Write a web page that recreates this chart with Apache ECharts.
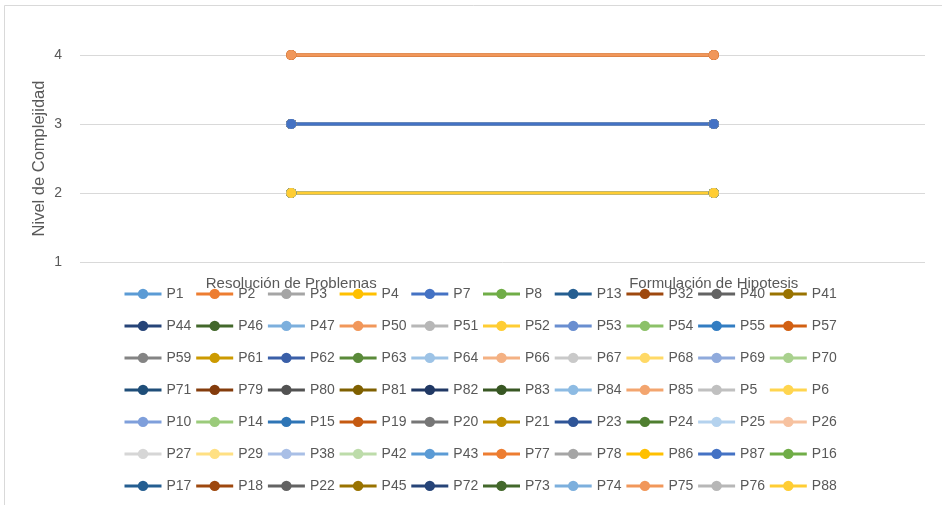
<!DOCTYPE html>
<html>
<head>
<meta charset="utf-8">
<script src="https://cdn.jsdelivr.net/npm/echarts@6/dist/echarts.min.js"></script>
<style>
html,body{margin:0;padding:0;background:#fff;}
#chart{width:942px;height:505px;}
</style>
</head>
<body>
<div id="chart"></div>
<script>
const categories = ['Resolución de Problemas', 'Formulación de Hipotesis'];
const yTicks = [1, 2, 3, 4];
const seriesNames = [
  'P1','P2','P3','P4','P7','P8','P13','P32','P40','P41',
  'P44','P46','P47','P50','P51','P52','P53','P54','P55','P57',
  'P59','P61','P62','P63','P64','P66','P67','P68','P69','P70',
  'P71','P79','P80','P81','P82','P83','P84','P85','P5','P6',
  'P10','P14','P15','P19','P20','P21','P23','P24','P25','P26',
  'P27','P29','P38','P42','P43','P77','P78','P86','P87','P16',
  'P17','P18','P22','P45','P72','P73','P74','P75','P76','P88'
];
const resolucion = [
  3,4,2,2,3,2,3,3,3,3,
  3,2,2,4,3,2,3,2,3,4,
  3,2,3,2,2,4,3,2,3,2,
  3,3,3,3,3,2,2,4,2,2,
  3,2,3,3,3,3,3,2,2,4,
  2,2,3,2,3,4,3,2,3,2,
  2,4,2,2,2,2,2,4,2,2
];
const formulacion = [
  3,4,2,2,3,2,3,3,3,3,
  3,2,2,4,3,2,3,2,3,4,
  3,2,3,2,2,4,3,2,3,2,
  3,3,3,3,3,2,2,4,2,2,
  3,2,3,3,3,3,3,2,2,4,
  2,2,3,2,3,4,3,2,3,2,
  2,4,2,2,2,2,2,4,2,2
];
const palette = [
  '#5B9BD5','#ED7D31','#A5A5A5','#FFC000','#4472C4','#70AD47',
  '#255E91','#9E480E','#636363','#997300','#264478','#43682B',
  '#7CAFDD','#F1975A','#B7B7B7','#FFCD33','#698ED0','#8CC168',
  '#327DC2','#D26012','#848484','#CC9A00','#3A5FA8','#5A8A39',
  '#9DC3E6','#F4B183','#C9C9C9','#FFD966','#8FAADC','#A9D18E',
  '#1F4E79','#843C0C','#525252','#7F6000','#203864','#385723',
  '#8DBBE3','#F3A56F','#C0C0C0','#FFD54F','#7F9FDB','#9BCB7B',
  '#2E75B6','#C55A11','#767676','#BF9000','#2F5597','#4F7F30',
  '#B4D2EE','#F7C2A0','#D6D6D6','#FFE083','#A9BFE6','#BDDCAA'
];

const series = seriesNames.map((name, i) => ({
  name: name,
  type: 'line',
  data: [resolucion[i], formulacion[i]],
  symbol: 'circle',
  symbolSize: 10,
  showSymbol: true,
  lineStyle: { width: 3, color: palette[i % palette.length] },
  itemStyle: { color: palette[i % palette.length] },
  emphasis: { disabled: true },
  animation: false
}));

const chart = echarts.init(document.getElementById('chart'), null, { renderer: 'canvas' });
chart.setOption({
  animation: false,
  backgroundColor: '#ffffff',
  color: palette,
  textStyle: { fontFamily: 'Liberation Sans' },
  graphic: [{
    type: 'rect',
    shape: { x: 4.5, y: 5.5, width: 960, height: 530 },
    style: { fill: 'none', stroke: '#D9D9D9', lineWidth: 1 },
    silent: true,
    z: -10
  }],
  grid: { left: 80, right: 17, top: 55, bottom: 243, containLabel: false },
  xAxis: {
    type: 'category',
    data: categories,
    boundaryGap: true,
    axisLine: { show: false },
    axisTick: { show: false },
    axisLabel: { color: '#595959', fontSize: 15, margin: 14, fontFamily: 'Liberation Sans' },
    z: 1
  },
  yAxis: {
    type: 'value',
    min: 1,
    max: 4,
    interval: 1,
    name: 'Nivel de Complejidad',
    nameLocation: 'middle',
    nameRotate: 90,
    nameGap: 32,
    nameMoveOverlap: false,
    nameTextStyle: { color: '#595959', fontSize: 16.5, fontFamily: 'Liberation Sans' },
    axisLine: { show: false },
    axisTick: { show: false },
    axisLabel: {
      color: '#595959', fontSize: 14, margin: 18, fontFamily: 'Liberation Sans',
      formatter: v => (yTicks.indexOf(v) >= 0 ? String(v) : '')
    },
    splitLine: { show: true, lineStyle: { color: '#D9D9D9', width: 1 } }
  },
  legend: {
    type: 'plain',
    orient: 'horizontal',
    left: 123,
    top: 278,
    width: 735,
    padding: 0,
    itemWidth: 37,
    itemHeight: 13,
    itemGap: 0.2,
    data: seriesNames,
    lineStyle: { width: 3 },
    textStyle: {
      color: '#595959', fontSize: 14, fontFamily: 'Liberation Sans',
      width: 28, height: 31.8, lineHeight: 31.8, overflow: 'none'
    },
    selectedMode: false
  },
  series: series
});
</script>
</body>
</html>
